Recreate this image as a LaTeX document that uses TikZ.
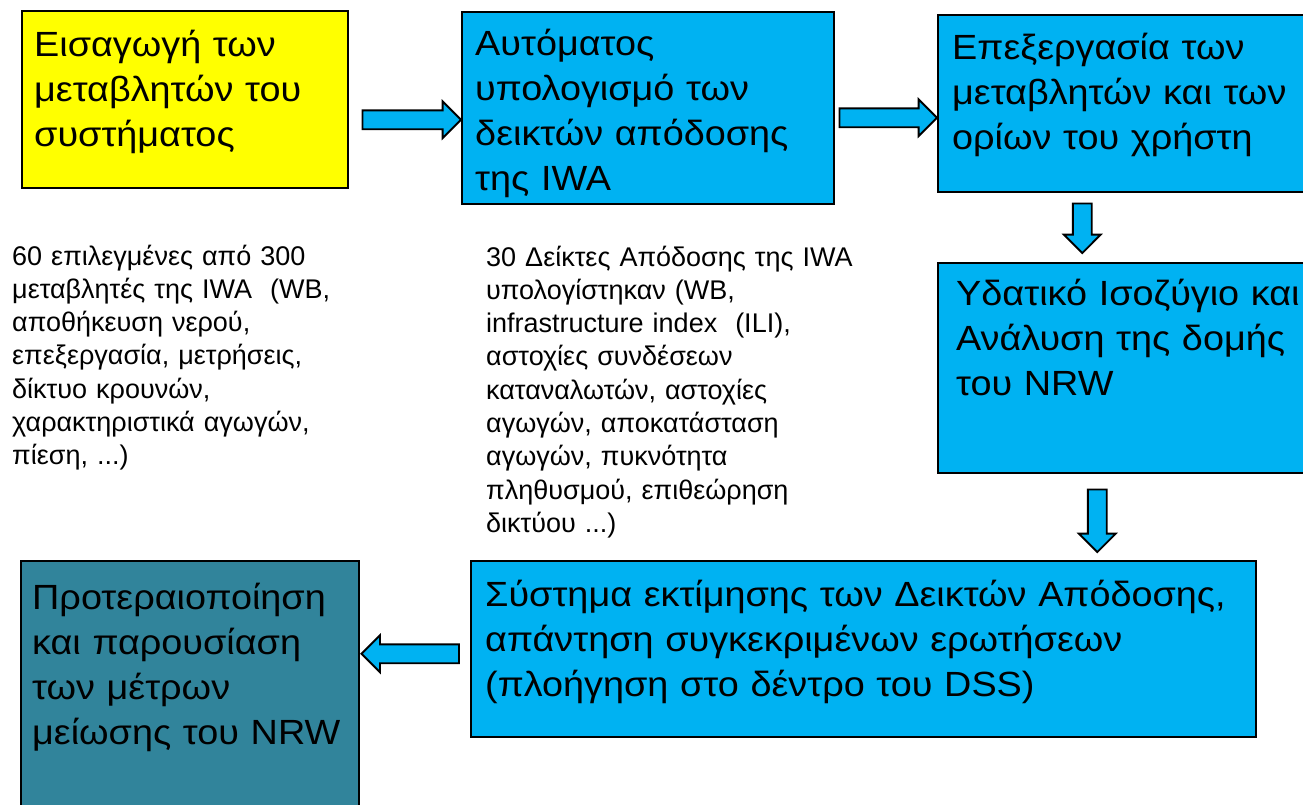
\documentclass[tikz,border=0pt]{standalone}
\usepackage{fontspec}
\setmainfont[FakeStretch=1.08]{Liberation Sans}
\newfontfamily\notefont{Liberation Sans}
\usetikzlibrary{positioning,calc,shapes.arrows}
\definecolor{Sky}{HTML}{00B2F2}
\definecolor{Sun}{HTML}{FFFF00}
\definecolor{Teal}{HTML}{31849B}

\begin{document}
\begin{tikzpicture}[x=1pt,y=-1pt,
    box/.style={draw=black,line width=1.5pt,anchor=north west,inner sep=0pt},
    big/.style={anchor=base west,inner sep=0pt,text width=1000pt,align=left,
      font=\fontsize{35}{45}\selectfont},
    note/.style={anchor=base west,inner sep=0pt,text width=1000pt,align=left,
      font=\notefont\fontsize{27}{33.3}\selectfont},
    arrowbody/.style={single arrow,draw=black,line width=1.8pt,fill=Sky,
      inner sep=8.5pt,outer sep=0pt,single arrow head extend=9pt,
      single arrow tip angle=90,anchor=tail},
    blk/.style={to path={let \p1=(\tikztostart),\p2=(\tikztotarget),
      \n1={veclen(\x2-\x1,\y2-\y1)},\n2={atan2(\y2-\y1,\x2-\x1)} in
      node[arrowbody,minimum height=\n1,rotate=\n2] at (\p1) {}}}
  ]
    \useasboundingbox (0,0) rectangle (1303,804);
    % boxes
    \node[box,fill=Sun,minimum width=326,minimum height=177] (inp) at (21,10) {};
    \node[box,fill=Sky,minimum width=372,minimum height=192] (calc) at (461,11) {};
    \node[box,fill=Sky,minimum width=369,minimum height=177] (proc) at (937,14) {};
    \node[box,fill=Sky,minimum width=369,minimum height=210] (wb) at (937,262) {};
    \node[box,fill=Sky,minimum width=785,minimum height=176] (dss) at (470,560) {};
    \node[box,fill=Teal,minimum width=338,minimum height=250] (prio) at (20,560) {};
    \node[big] (inp-t) at ($(inp.north west)+(13,46)$) {Εισαγωγή των\\μεταβλητών του\\συστήματος};
    \node[big] (calc-t) at ($(calc.north west)+(14,44)$) {Αυτόματος\\υπολογισμό των\\δεικτών απόδοσης\\της IWA};
    \node[big] (proc-t) at ($(proc.north west)+(15,45)$) {Επεξεργασία των\\μεταβλητών και των\\ορίων του χρήστη};
    \node[big] (wb-t) at ($(wb.north west)+(19,43)$) {Υδατικό Ισοζύγιο και\\Ανάλυση της δομής\\του NRW};
    \node[big] (dss-t) at ($(dss.north west)+(15,46)$) {Σύστημα εκτίμησης των Δεικτών Απόδοσης,\\απάντηση συγκεκριμένων ερωτήσεων\\(πλοήγηση στο δέντρο του DSS)};
    \node[big] (prio-t) at ($(prio.north west)+(12,49)$) {Προτεραιοποίηση\\και παρουσίαση\\των μέτρων\\μείωσης του NRW};
    % notes under the first row
    \node[note] (vars) at (12,265) {60 επιλεγμένες από 300\\μεταβλητές της IWA \ (WB,\\αποθήκευση νερού,\\επεξεργασία, μετρήσεις,\\δίκτυο κρουνών,\\χαρακτηριστικά αγωγών,\\πίεση, ...)};
    \node[note] (pis) at (486,266) {30 Δείκτες Απόδοσης της IWA\\υπολογίστηκαν (WB,\\infrastructure index \ (ILI),\\αστοχίες συνδέσεων\\καταναλωτών, αστοχίες\\αγωγών, αποκατάσταση\\αγωγών, πυκνότητα\\πληθυσμού, επιθεώρηση\\δικτύου ...)};
    % block arrows
    \coordinate (a1e) at ([yshift=-12pt]calc.west);
    \coordinate (a1s) at ($(inp.east|-a1e)+(14,0)$);
    \coordinate (a2e) at ([yshift=-14.5pt]proc.west);
    \coordinate (a2s) at ($(calc.east|-a2e)+(5,0)$);
    \coordinate (a3s) at ($(proc.south)+(-40,11)$);
    \coordinate (a3e) at ($(a3s|-wb.north)+(0,-9)$);
    \coordinate (a4s) at ($(wb.south)+(-25,16)$);
    \coordinate (a4e) at ($(a4s|-dss.north)+(0,-8)$);
    \coordinate (a5s) at ($(dss.west)+(-11,5)$);
    \coordinate (a5e) at ($(prio.east|-a5s)+(2,0)$);
    \foreach \s/\e in {a1s/a1e,a2s/a2e,a3s/a3e,a4s/a4e,a5s/a5e}
      \path (\s) to[blk] (\e);
\end{tikzpicture}
\end{document}
